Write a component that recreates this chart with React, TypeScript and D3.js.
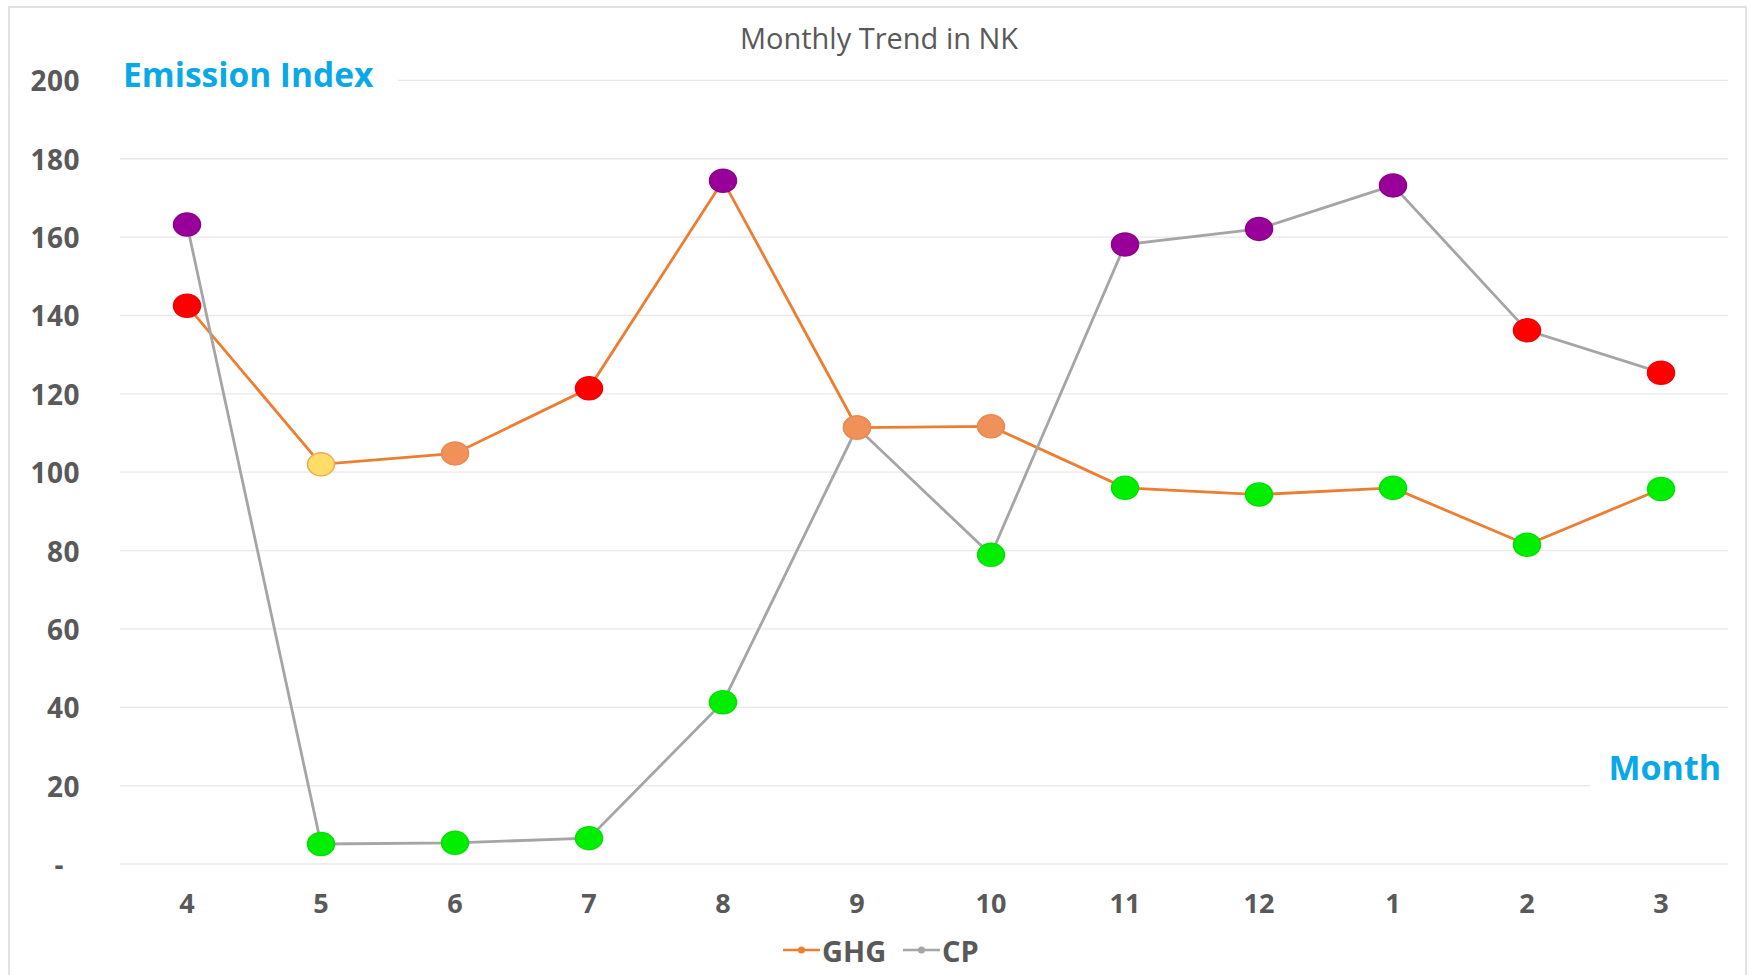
import React from "react";
import * as d3 from "d3";

const months = ["4", "5", "6", "7", "8", "9", "10", "11", "12", "1", "2", "3"];
const ghgValues = [142.5, 102, 104.8, 121.4, 174.4, 111.4, 111.7, 96, 94.3, 96, 81.5, 95.7];
const cpValues = [163.2, 5.1, 5.4, 6.6, 41.3, 111.4, 78.9, 158.1, 162.1, 173.2, 136.2, 125.4];
const ghgMarkerColors = ["red", "yellow", "salmon", "red", "purple", "salmon", "salmon", "green", "green", "green", "green", "green"];
const cpMarkerColors = ["purple", "green", "green", "green", "green", "salmon", "green", "purple", "purple", "purple", "red", "red"];
const yTicks = [0, 20, 40, 60, 80, 100, 120, 140, 160, 180, 200];
const seriesNames = ["GHG", "CP"];

const palette: Record<string, { fill: string; stroke: string }> = {
  red: { fill: "#FF0000", stroke: "#F20000" },
  yellow: { fill: "#FFDD66", stroke: "#F2A65A" },
  salmon: { fill: "#EF9158", stroke: "#EA8A50" },
  purple: { fill: "#990099", stroke: "#8A008A" },
  green: { fill: "#00EE00", stroke: "#00E000" },
};

const W = 1750;
const H = 975;
const FONT = "'Open Sans', 'Noto Sans', sans-serif";
const GRAY_TEXT = "#595959";
const BLUE = "#0AA8E6";
const ORANGE = "#ED7D31";
const LINE_GRAY = "#A5A5A5";

export default function App() {
  const x = d3.scalePoint<string>().domain(months).range([120, 1728]).padding(0.5);
  const y = d3.scaleLinear().domain([0, 200]).range([864, 80.4]);

  const line = d3
    .line<number>()
    .x((_, i) => x(months[i]) as number)
    .y((d) => y(d));

  const marker = (v: number, i: number, c: string, key: string) => (
    <ellipse
      key={key}
      cx={x(months[i]) as number}
      cy={y(v)}
      rx={13.5}
      ry={11.5}
      fill={palette[c].fill}
      stroke={palette[c].stroke}
      strokeWidth={1.5}
    />
  );

  return (
    <svg
      width={W}
      height={H}
      style={{ position: "absolute", left: 0, top: 0, background: "#fff" }}
      fontFamily={FONT}
    >
      <rect x={0} y={0} width={W} height={H} fill="#fff" />
      <rect x={9} y={7} width={1737} height={H + 10} fill="#fff" stroke="#D9D9D9" strokeWidth={1.5} />

      {/* gridlines */}
      {yTicks.map((t) => (
        <line key={"g" + t} x1={120} x2={1728} y1={y(t)} y2={y(t)} stroke="#E8E8E8" strokeWidth={1.3} />
      ))}

      {/* title */}
      <text x={879} y={37} textAnchor="middle" dominantBaseline="central" fontSize={29} fill={GRAY_TEXT}>
        Monthly Trend in NK
      </text>

      {/* y tick labels */}
      {yTicks.map((t) => (
        <text
          key={"yl" + t}
          x={t === 0 ? 64 : 80}
          y={y(t)}
          textAnchor="end"
          dominantBaseline="central"
          fontSize={28}
          fontWeight={700}
          fill={GRAY_TEXT}
          letterSpacing={0.5}
        >
          {t === 0 ? "-" : t}
        </text>
      ))}

      {/* x tick labels */}
      {months.map((m) => (
        <text
          key={"xl" + m}
          x={x(m) as number}
          y={902}
          textAnchor="middle"
          dominantBaseline="central"
          fontSize={27}
          fontWeight={700}
          fill={GRAY_TEXT}
        >
          {m}
        </text>
      ))}

      {/* axis title boxes */}
      <rect x={112} y={50} width={286} height={48} fill="#fff" />
      <text x={123} y={74} dominantBaseline="central" fontSize={33.5} fontWeight={700} fill={BLUE}>
        Emission Index
      </text>
      <rect x={1590} y={745} width={140} height={46} fill="#fff" />
      <text x={1721} y={767} textAnchor="end" dominantBaseline="central" fontSize={34} fontWeight={700} fill={BLUE}>
        Month
      </text>

      {/* GHG series */}
      <path d={line(ghgValues) || ""} fill="none" stroke={ORANGE} strokeWidth={2.8} />
      {ghgValues.map((v, i) => marker(v, i, ghgMarkerColors[i], "gm" + i))}

      {/* CP series */}
      <path d={line(cpValues) || ""} fill="none" stroke={LINE_GRAY} strokeWidth={2.8} />
      {cpValues.map((v, i) => marker(v, i, cpMarkerColors[i], "cm" + i))}

      {/* legend */}
      <g>
        <line x1={783} x2={820} y1={950} y2={950} stroke={ORANGE} strokeWidth={2.5} />
        <circle cx={801.5} cy={950} r={3.5} fill={ORANGE} />
        <text x={822} y={950} dominantBaseline="central" fontSize={29} fontWeight={700} fill={GRAY_TEXT}>
          {seriesNames[0]}
        </text>
        <line x1={903} x2={940} y1={950} y2={950} stroke={LINE_GRAY} strokeWidth={2.5} />
        <circle cx={921.5} cy={950} r={3.5} fill={LINE_GRAY} />
        <text x={942} y={950} dominantBaseline="central" fontSize={29} fontWeight={700} fill={GRAY_TEXT}>
          {seriesNames[1]}
        </text>
      </g>
    </svg>
  );
}
